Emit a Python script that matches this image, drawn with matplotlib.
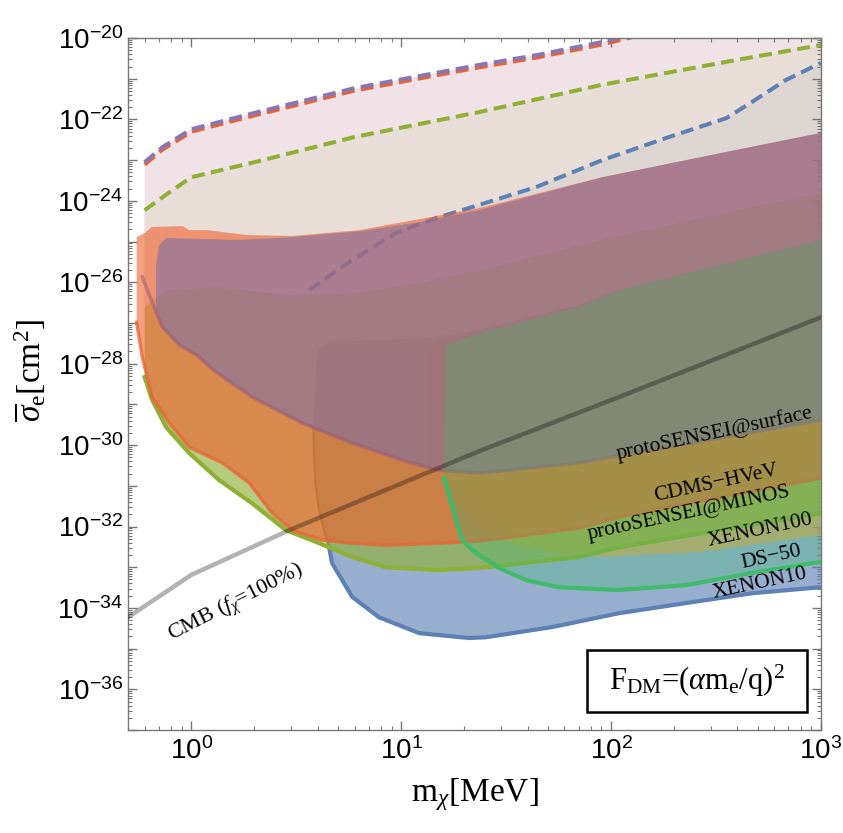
import numpy as np
import matplotlib
matplotlib.use("Agg")
import matplotlib.pyplot as plt
from matplotlib.ticker import FixedLocator, FuncFormatter, NullFormatter
from matplotlib.patches import Rectangle

plt.rcParams["font.family"] = "Liberation Sans"
plt.rcParams["mathtext.fontset"] = "custom"
plt.rcParams["mathtext.rm"] = "Liberation Serif"
plt.rcParams["mathtext.it"] = "Liberation Serif:italic"
plt.rcParams["mathtext.bf"] = "Liberation Serif:bold"

SERIF = "Liberation Serif"

# ---------------------------------------------------------------------------
# data: dark-matter mass [MeV] and log10(cross section [cm^2])
# ---------------------------------------------------------------------------
# dashed upper curves
purple_m = [0.6, 0.73, 1.0, 2.0, 6.0, 23.5, 44.0, 90.0, 130.0]
purple_log = [-23.05, -22.68, -22.24, -21.84, -21.23, -20.66, -20.42, -20.10, -19.90]
orange_log = [-23.11, -22.74, -22.30, -21.90, -21.29, -20.72, -20.48, -20.16, -19.96]
green_m = [0.6, 0.73, 1.0, 2.0, 6.0, 23.5, 90.0, 394.0, 1000.0]
green_log = [-24.23, -23.91, -23.42, -23.05, -22.43, -21.82, -21.15, -20.54, -20.17]
blue_m = [3.65, 5.85, 9.46, 14.7, 23.5, 44.0, 90.6, 189.0, 353.0, 469.0, 681.0, 1000.0]
blue_log = [-26.19, -25.45, -24.79, -24.42, -24.10, -23.66, -23.00, -22.43, -21.97,
            -21.57, -21.03, -20.61]

# CDMS-HVeV
cdms_top_m = [0.55, 0.6, 0.65, 0.91, 0.98, 1.19, 1.85, 3.03, 6.3, 23.5, 90.6, 394.0, 1000.0]
cdms_top_log = [-24.89, -24.79, -24.64, -24.62, -24.72, -24.72, -24.84, -24.86, -24.72,
                -24.18, -23.42, -22.75, -22.33]
cdms_bot_m = [0.55, 0.585, 0.652, 0.786, 0.98, 1.41, 1.89, 2.43, 3.03, 4.2, 5.85, 8.48,
              12.2, 23.5, 70.0, 109.0, 1000.0]
cdms_bot_log = [-26.98, -27.84, -28.82, -29.46, -30.05, -30.44, -30.93, -31.67, -32.09,
                -32.33, -32.41, -32.46, -32.43, -32.36, -32.04, -31.77, -30.81]

# protoSENSEI@MINOS
minos_top_m = [0.6, 0.69, 0.79, 1.315, 2.83, 5.85, 12.2, 23.5, 90.6, 394.0, 1000.0]
minos_top_log = [-26.61, -26.36, -26.19, -26.12, -26.31, -26.27, -26.02, -25.70, -24.96,
                 -24.23, -23.81]
minos_bot_m = [0.6, 0.652, 0.76, 0.98, 1.36, 1.95, 2.83, 4.07, 5.85, 8.48, 14.7, 23.5,
               70.0, 109.0, 1000.0]
minos_bot_log = [-28.33, -28.89, -29.56, -30.20, -30.86, -31.43, -32.09, -32.41, -32.75,
                 -33.00, -33.07, -33.02, -32.75, -32.51, -31.67]

# protoSENSEI@surface
surf_top_m = [0.68, 0.704, 0.76, 1.64, 3.03, 6.52, 12.2, 23.5, 90.6, 394.0, 1000.0]
surf_top_log = [-25.58, -25.09, -24.91, -24.96, -24.89, -24.74, -24.52, -24.23, -23.42,
                -22.75, -22.33]
surf_bot_m = [0.585, 0.68, 0.728, 0.877, 1.06, 1.315, 1.66, 1.95, 3.38, 5.85, 10.1, 14.7,
              23.5, 70.0, 136.0, 1000.0]
surf_bot_log = [-25.87, -26.73, -27.10, -27.54, -27.79, -28.21, -28.57, -28.82, -29.46,
                -29.95, -30.37, -30.61, -30.69, -30.44, -30.17, -29.39]

# XENON10
x10_top_m = [3.98, 4.54, 7.85, 13.6, 23.5, 70.0, 109.0, 1000.0]
x10_top_log = [-27.67, -27.47, -27.42, -27.37, -27.17, -26.56, -26.19, -24.96]
x10_bot_m = [3.98, 3.81, 3.89, 4.07, 4.3, 4.54, 4.69, 5.85, 7.85, 12.2, 21.1, 25.4, 52.4,
             109.0, 228.0, 469.0, 1000.0]
x10_bot_log = [-27.67, -29.56, -30.86, -31.60, -32.09, -32.51, -32.90, -33.73, -34.23,
               -34.62, -34.74, -34.72, -34.47, -34.13, -33.88, -33.64, -33.49]

# XENON100
x100_top_m = [13.6, 14.5, 23.5, 70.0, 109.0, 1000.0]
x100_top_log = [-27.67, -27.47, -27.22, -26.58, -26.19, -24.96]
x100_bot_m = [13.6, 16.4, 20.4, 29.3, 51.0, 87.4, 262.0, 1000.0]
x100_bot_log = [-30.49, -30.79, -31.60, -32.33, -32.65, -32.75, -32.63, -32.21]

# DS-50
ds50_top_m = [16.2, 23.5, 70.0, 109.0, 1000.0]
ds50_top_log = [-27.54, -27.25, -26.61, -26.19, -24.96]
ds50_bot_m = [16.0, 19.5, 22.7, 29.3, 39.4, 56.5, 87.4, 109.0, 228.0, 469.0, 1000.0]
ds50_bot_log = [-30.81, -32.33, -32.65, -33.02, -33.32, -33.49, -33.54, -33.56, -33.44,
                -33.14, -32.87]

# CMB (f_chi = 100%)
cmb_m = [0.5, 1.0, 2.93, 23.5, 109.0, 1000.0]
cmb_log = [-34.23, -33.19, -32.09, -30.15, -28.82, -26.86]

labels = ["protoSENSEI@surface", "CDMS\u2212HVeV", "protoSENSEI@MINOS",
          "XENON100", "DS\u221250", "XENON10"]
label_m = [312.0, 315.0, 235.0, 511.0, 583.0, 511.0]
label_log = [-29.72, -30.93, -31.68, -32.09, -32.75, -33.39]


def band(ax, xt, yt, xb, yb, **kw):
    xs = np.concatenate([np.asarray(xt), np.asarray(xb)[::-1]])
    ys = np.concatenate([np.asarray(yt), np.asarray(yb)[::-1]])
    ax.fill(xs, 10.0 ** ys, lw=0, **kw)


def curve(ax, x, y, **kw):
    ax.plot(x, 10.0 ** np.asarray(y), **kw)


fig = plt.figure(figsize=(8.43, 8.33), dpi=100)
ax = fig.add_axes([0.1518, 0.1236, 0.8221, 0.8307])
ax.set_xscale("log")
ax.set_yscale("log")

# pale background regions under the dashed curves
band(ax, purple_m + [1000.0], purple_log + [purple_log[-1]],
     minos_top_m, minos_top_log, color="#f0e2e6", zorder=1)
band(ax, green_m, green_log, minos_top_m, minos_top_log, color="#e8ddd7", zorder=1)
band(ax, blue_m, blue_log, minos_top_m[5:], minos_top_log[5:], color="#ddd5d2", zorder=1)

dash = dict(lw=2.9, dashes=(3.2, 1.6), solid_capstyle="butt", zorder=2)
curve(ax, purple_m, orange_log, color="#eb6235", **dash)
curve(ax, purple_m, purple_log, color="#8778b3", **dash)
curve(ax, green_m, green_log, color="#8fb032", **dash)
curve(ax, blue_m, blue_log, color="#5e81b5", **dash)

# experiment regions
band(ax, x10_top_m, x10_top_log, x10_bot_m, x10_bot_log, color="#5e81b5", alpha=0.64, zorder=3)
curve(ax, x10_bot_m[1:6], x10_bot_log[1:6], color="#6a6a80", lw=1.6, zorder=3)
curve(ax, x10_bot_m[5:], x10_bot_log[5:], color="#5e81b5", lw=3, zorder=3)

band(ax, x100_top_m, x100_top_log, x100_bot_m, x100_bot_log, color="#ffa528", alpha=0.55, zorder=4)

band(ax, minos_top_m, minos_top_log, minos_bot_m, minos_bot_log, color="#8fb039", alpha=0.65, zorder=5)
curve(ax, minos_bot_m, minos_bot_log, color="#8fb032", lw=3, zorder=5)

band(ax, cdms_top_m, cdms_top_log, cdms_bot_m, cdms_bot_log, color="#f0602e", alpha=0.6, zorder=6)
curve(ax, cdms_bot_m, cdms_bot_log, color="#eb6235", lw=2.5, alpha=0.75, zorder=6)

band(ax, surf_top_m, surf_top_log, surf_bot_m[1:], surf_bot_log[1:], color="#796ea9", alpha=0.57, zorder=7)
curve(ax, surf_bot_m, surf_bot_log, color="#9c5a78", lw=2.5, alpha=0.55, zorder=7)

band(ax, ds50_top_m, ds50_top_log, ds50_bot_m, ds50_bot_log, color="#3cb96e", alpha=0.3, zorder=8)
curve(ax, ds50_bot_m, ds50_bot_log, color="#40bb6a", lw=3, zorder=8)

curve(ax, cmb_m, cmb_log, color="black", alpha=0.3, lw=3.2, zorder=9)

for t, m, lg in zip(labels, label_m, label_log):
    ax.text(m, 10.0 ** lg, t, family=SERIF, fontsize=15.5, rotation=12,
            rotation_mode="anchor", ha="center", va="center", zorder=10)
ax.text(1.65, 10.0 ** -33.9, r"CMB ($f_{\chi}$=100%)", family=SERIF, fontsize=16,
        rotation=27, rotation_mode="anchor", ha="center", va="center", zorder=10)

ax.add_patch(Rectangle((0.662, 0.026), 0.318, 0.0896, transform=ax.transAxes,
                       fill=True, facecolor="white", edgecolor="black", lw=1.8, zorder=11))
ax.text(0.821, 0.0708, r"F$_{\rm DM}$=($\alpha$m$_{\rm e}$/q)$^{2}$", family=SERIF,
        fontsize=22, ha="center", va="center", transform=ax.transAxes, zorder=12)

# axes, ticks
ax.set_xlim(0.5, 1000)
ax.set_ylim(1e-37, 1e-20)

decades_y = np.arange(-38, -19)
ax.yaxis.set_major_locator(FixedLocator(10.0 ** decades_y))
ax.yaxis.set_minor_locator(FixedLocator([k * 10.0 ** d for d in decades_y for k in range(2, 10)]))
ax.yaxis.set_major_formatter(FuncFormatter(
    lambda v, p: r"$\mathdefault{10^{%d}}$" % round(np.log10(v)) if round(np.log10(v)) % 2 == 0 else ""))
ax.yaxis.set_minor_formatter(NullFormatter())

decades_x = np.arange(-1, 4)
ax.xaxis.set_major_locator(FixedLocator(10.0 ** decades_x))
ax.xaxis.set_minor_locator(FixedLocator([k * 10.0 ** d for d in decades_x for k in range(2, 10)]))
ax.xaxis.set_major_formatter(FuncFormatter(lambda v, p: r"$\mathdefault{10^{%d}}$" % round(np.log10(v))))
ax.xaxis.set_minor_formatter(NullFormatter())

ax.tick_params(which="both", direction="in", top=True, right=True, color="#777777",
               labelsize=20)
ax.tick_params(which="major", length=6.5, width=1)
ax.tick_params(which="minor", length=3.2, width=0.8)
ax.tick_params(axis="x", pad=5)
for s in ax.spines.values():
    s.set_color("#777777")
    s.set_linewidth(1.0)

ax.set_xlabel(r"m$_{\chi}$[MeV]", family=SERIF, fontsize=24, labelpad=8)
ax.set_ylabel(r"$\overline{\sigma}_{\rm e}$[cm$^{2}$]", family=SERIF, fontsize=24)
ax.yaxis.set_label_coords(-0.115, 0.52)

fig.savefig("out.png", dpi=100)
